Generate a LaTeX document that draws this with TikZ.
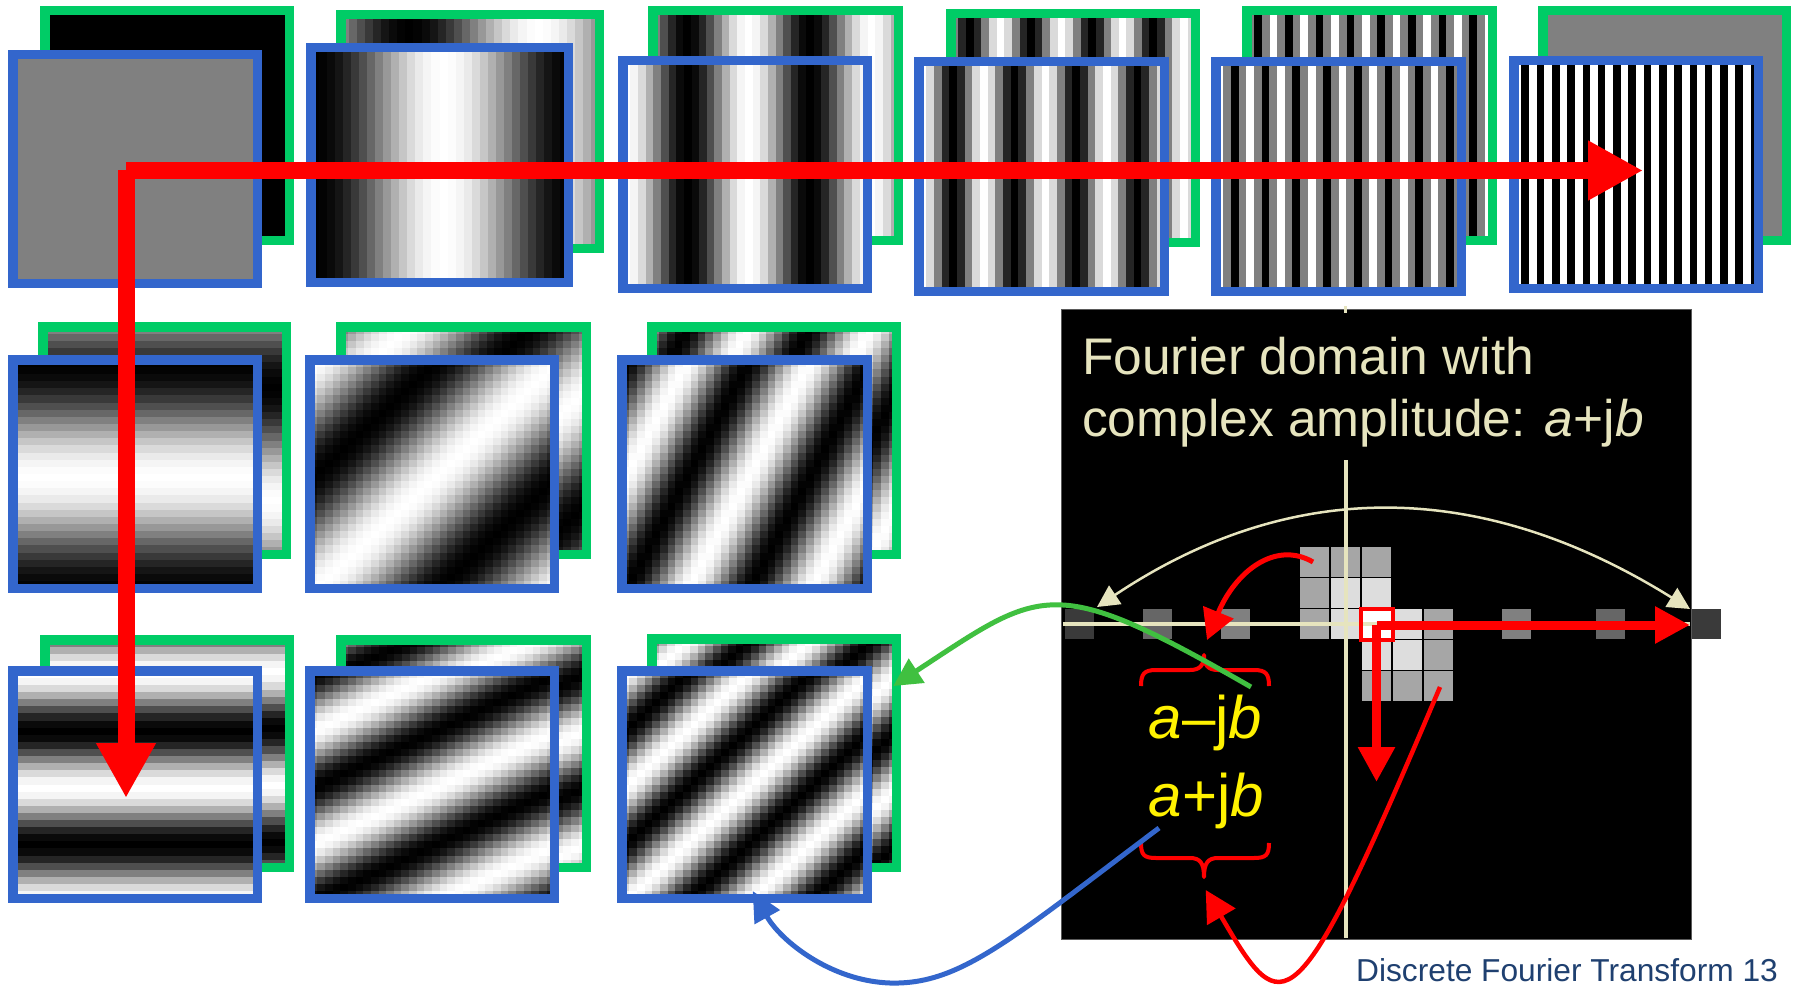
\documentclass[tikz,border=0pt]{standalone}
\usepackage{fontspec}
\setmainfont{Liberation Sans}
\usetikzlibrary{arrows.meta}
\definecolor{gframecol}{RGB}{0,204,102}
\definecolor{bframecol}{RGB}{51,102,204}
\definecolor{beige}{RGB}{230,228,190}
\definecolor{navy}{RGB}{31,64,112}
\definecolor{gcurcol}{RGB}{64,192,64}
\definecolor{bcurcol}{RGB}{51,102,204}
\definecolor{cellG}{RGB}{166,166,166}
\definecolor{cellL}{RGB}{221,221,221}
\definecolor{binA}{RGB}{58,58,58}
\definecolor{binB}{RGB}{102,102,102}
\definecolor{binC}{RGB}{128,128,128}
\definecolor{midgray}{RGB}{128,128,128}
\newcommand{\gval}[1]{\pgfmathsetmacro\gv{max(0,min(1,0.5+0.5*cos(#1)))}\definecolor{pix}{gray}{\gv}}
% vertical stripes: outer x0 y0 x1 y1, phase angle (degrees) as expression in \n
\newcommand{\vstripes}[5]{%
  \pgfmathsetmacro\xa{#1+4.75}\pgfmathsetmacro\xb{#3-4.75}%
  \pgfmathsetmacro\ya{#2+4.75}\pgfmathsetmacro\yb{#4-4.75}%
  \pgfmathsetmacro\pw{(\xb-\xa)/32}%
  \foreach \n in {0,...,31}{%
    \gval{#5}%
    \fill[pix] ({\xa+\n*\pw},\ya) rectangle ({\xa+(\n+1)*\pw+0.6},\yb);
  }%
}
% horizontal stripes: phase as expression in \m
\newcommand{\hstripes}[5]{%
  \pgfmathsetmacro\xa{#1+4.75}\pgfmathsetmacro\xb{#3-4.75}%
  \pgfmathsetmacro\ya{#2+4.75}\pgfmathsetmacro\yb{#4-4.75}%
  \pgfmathsetmacro\ph{(\yb-\ya)/32}%
  \foreach \m in {0,...,31}{%
    \gval{#5}%
    \fill[pix] (\xa,{\ya+\m*\ph}) rectangle (\xb,{\ya+(\m+1)*\ph+0.6});
  }%
}
% 2-D pattern: phase as expression in \n and \m
\newcommand{\dimg}[5]{%
  \pgfmathsetmacro\xa{#1+4.75}\pgfmathsetmacro\xb{#3-4.75}%
  \pgfmathsetmacro\ya{#2+4.75}\pgfmathsetmacro\yb{#4-4.75}%
  \pgfmathsetmacro\pw{(\xb-\xa)/32}\pgfmathsetmacro\ph{(\yb-\ya)/32}%
  \foreach \n in {0,...,31}{\foreach \m in {0,...,31}{%
    \gval{#5}%
    \fill[pix] ({\xa+\n*\pw},{\ya+\m*\ph}) rectangle ({\xa+(\n+1)*\pw+0.6},{\ya+(\m+1)*\ph+0.6});
  }}%
}
\newcommand{\frm}[5]{\draw[#1] ({#2+4.75},{#3+4.75}) rectangle ({#4-4.75},{#5-4.75});}
\newcommand{\cell}[3]{\fill[#3, draw=black, line width=1.5] ({#1-15.5},{#2-15.5}) rectangle ({#1+15.5},{#2+15.5});}
\newcommand{\bin}[3]{\fill[#3] ({#1-14.5},{#2-15}) rectangle ({#1+14.5},{#2+15});}
\tikzset{
  gbox/.style={draw=gframecol, line width=9.5},
  bbox/.style={draw=bframecol, line width=9.5},
  bigred/.style={draw=red, line width=17, -{Triangle[length=55pt,width=56pt]}},
  smallred/.style={draw=red, line width=9, -{Triangle[length=35pt,width=35pt]}},
  bracestyle/.style={draw=red, line width=4, line join=round},
}
\begin{document}
\begin{tikzpicture}[x=1pt,y=-1pt]
\fill[white] (0,0) rectangle (1801,987);
\useasboundingbox (0,0) rectangle (1801,987);
% ---------- Row 1 ----------
% P1
\fill[black] (44.75,10.75) rectangle (289.25,240.25);
\frm{gbox}{40}{6}{294}{245}
\fill[midgray] (12.75,54.75) rectangle (257.25,283.25);
\frm{bbox}{8}{50}{262}{288}
% P2 (k=1)
\vstripes{336}{10}{604}{253}{11.25*\n+90}
\frm{gbox}{336}{10}{604}{253}
\vstripes{306}{43}{573}{287}{11.25*(\n-16)}
\frm{bbox}{306}{43}{573}{287}
% P3 (k=2)
\vstripes{648}{6}{903}{245}{22.5*\n+90}
\frm{gbox}{648}{6}{903}{245}
\vstripes{618}{56}{872}{293}{22.5*(\n-16)}
\frm{bbox}{618}{56}{872}{293}
% P4 (k=4)
\vstripes{946}{9}{1200}{247}{45*\n+90}
\frm{gbox}{946}{9}{1200}{247}
\vstripes{914}{57}{1169}{296}{45*(\n-16)}
\frm{bbox}{914}{57}{1169}{296}
% P5 (k=8)
\vstripes{1242}{6}{1497}{245}{90*\n+90}
\frm{gbox}{1242}{6}{1497}{245}
\vstripes{1211}{57}{1466}{296}{90*(\n-16)}
\frm{bbox}{1211}{57}{1466}{296}
% P6 (k=16)
\vstripes{1538}{6}{1791}{245}{180*\n+90}
\frm{gbox}{1538}{6}{1791}{245}
\vstripes{1509}{56}{1763}{293}{180*(\n-16)}
\frm{bbox}{1509}{56}{1763}{293}
% ---------- Row 2 ----------
% P7
\hstripes{38}{322}{291}{559}{11.25*(\m-16)-90}
\frm{gbox}{38}{322}{291}{559}
\hstripes{8}{355}{262}{593}{11.25*(\m-16)}
\frm{bbox}{8}{355}{262}{593}
% P8
\dimg{336}{322}{591}{559}{11.25*(\n+\m-32)-90}
\frm{gbox}{336}{322}{591}{559}
\dimg{305}{355}{559}{593}{11.25*(\n+\m-32)}
\frm{bbox}{305}{355}{559}{593}
% P9
\dimg{647}{322}{901}{559}{11.25*(2*\n+\m-48)-90}
\frm{gbox}{647}{322}{901}{559}
\dimg{617}{355}{872}{593}{11.25*(2*\n+\m-48)}
\frm{bbox}{617}{355}{872}{593}
% ---------- Row 3 ----------
% P10
\hstripes{40}{635}{294}{872}{22.5*(\m-16)-90}
\frm{gbox}{40}{635}{294}{872}
\hstripes{8}{666}{262}{903}{22.5*(\m-16)}
\frm{bbox}{8}{666}{262}{903}
% P11
\dimg{336}{635}{591}{872}{11.25*(\n+2*\m-48)-90}
\frm{gbox}{336}{635}{591}{872}
\dimg{305}{666}{559}{903}{11.25*(\n+2*\m-48)}
\frm{bbox}{305}{666}{559}{903}
% P12
\dimg{647}{634}{901}{872}{22.5*(\n+\m-32)-90}
\frm{gbox}{647}{634}{901}{872}
\dimg{617}{666}{872}{903}{22.5*(\n+\m-32)}
\frm{bbox}{617}{666}{872}{903}
% ---------- big red arrows ----------
\coordinate (bigc) at (126,170.5);
\coordinate (bigr) at (1643,170.5);
\coordinate (bigd) at (126,798);
\draw[bigred] (bigc) -- (bigr);
\draw[bigred] (bigc) -- (bigd);
% ---------- Fourier domain box ----------
\fill[black, draw={rgb,255:red,90;green,90;blue,90}, line width=1] (1061.5,309.5) rectangle (1691.5,939);
\fill[beige] (1344,306) rectangle (1347,313);
% bins on axis
\bin{1079}{624}{binA}
\bin{1157}{624}{binB}
\bin{1235.7}{624}{binC}
\bin{1516.7}{624}{binC}
\bin{1610.4}{624}{binB}
\bin{1706}{624}{binA}
% upper cluster
\cell{1314.5}{562}{cellG}\cell{1345.5}{562}{cellG}\cell{1376.5}{562}{cellG}
\cell{1314.5}{593}{cellG}\cell{1345.5}{593}{cellL}\cell{1376.5}{593}{cellL}
\cell{1314.5}{624}{cellG}\cell{1345.5}{624}{cellL}\cell{1376.5}{624}{white}
% lower cluster
\cell{1407.5}{624}{cellL}\cell{1438.5}{624}{cellG}
\cell{1376.5}{655}{cellL}\cell{1407.5}{655}{cellL}\cell{1438.5}{655}{cellG}
\cell{1376.5}{686}{cellG}\cell{1407.5}{686}{cellG}\cell{1438.5}{686}{cellG}
% axes
\draw[beige, line width=4] (1345.5,460) -- (1345.5,938);
\draw[beige, line width=4] (1063,623.5) -- (1690,623.5);
% arc with two heads
\coordinate (arcl) at (1097,607);
\coordinate (arcr) at (1690,609);
\draw[beige, line width=2.5, {Triangle[length=22pt,width=22pt]}-{Triangle[length=22pt,width=22pt]}] (arcl) .. controls (1290,478) and (1480,478) .. (arcr);
% highlighted cell
\draw[red, line width=4] (1360.8,608.5) rectangle (1392.7,639.8);
\coordinate (fc) at (1376.5,625);
\coordinate (fr) at (1690,625);
\coordinate (fd) at (1376.5,782);
\draw[smallred] (fc) -- (fr);
\draw[smallred] (fc) -- (fd);
% braces
\draw[bracestyle] (1141,686) .. controls (1141,674) and (1144,670) .. (1156,670) -- (1190,670) .. controls (1200,670) and (1204,665) .. (1204,655) .. controls (1204,665) and (1208,670) .. (1218,670) -- (1254,670) .. controls (1266,670) and (1269,674) .. (1269,686);
\draw[bracestyle] (1141,843) .. controls (1141,855) and (1144,858) .. (1156,858) -- (1190,858) .. controls (1200,858) and (1204,863) .. (1204,877) .. controls (1204,863) and (1208,858) .. (1218,858) -- (1254,858) .. controls (1266,858) and (1269,855) .. (1269,843);
% texts
\node[anchor=base west, inner sep=0, text=beige, font=\fontsize{51.5}{62}\selectfont] (t1) at (1082,374) {Fourier domain with};
\node[anchor=base west, inner sep=0, text=beige, font=\fontsize{51.5}{62}\selectfont] (t2) at (1082,436.7) {complex amplitude: \textit{a}+j\textit{b}};
\node[anchor=base, inner sep=0, text=yellow, font=\fontsize{60}{70}\selectfont] (lm) at (1205.5,738.3) {\textit{a}\textendash j\textit{b}};
\node[anchor=base, inner sep=0, text=yellow, font=\fontsize{60}{70}\selectfont] (lp) at (1206.5,816.7) {\textit{a}+j\textit{b}};
\node[anchor=base east, inner sep=0, text=navy, font=\fontsize{31.7}{38}\selectfont] (foot) at (1778,981) {Discrete Fourier Transform 13};
% red curved arrows
\coordinate (us) at (1313,562);
\coordinate (ut) at (1207,640);
\draw[red, line width=5, -{Triangle[length=30pt,width=32pt]}] (us) .. controls (1275,540) and (1235,572) .. (ut);
\coordinate (rs) at (1440,687);
\coordinate (rt) at (1205.7,890);
\draw[red, line width=4.5, -{Triangle[length=31pt,width=32pt]}] (rs) .. controls (1294,1032) and (1284,1024) .. (rt);
% green and blue curves
\coordinate (gs) at (1251,687);
\coordinate (gt) at (893.3,686);
\draw[gcurcol, line width=5, -{Triangle[length=28pt,width=28pt]}] (gs) .. controls (1051,572) and (1043,588) .. (gt);
\coordinate (bs) at (1159,828);
\coordinate (bm) at (890,983);
\coordinate (bt) at (752.7,891);
\draw[bcurcol, line width=5, -{Triangle[length=30pt,width=28pt]}] (bs) .. controls (1010,940) and (960,985) .. (bm) .. controls (830,981) and (780,940) .. (bt);
\end{tikzpicture}
\end{document}
